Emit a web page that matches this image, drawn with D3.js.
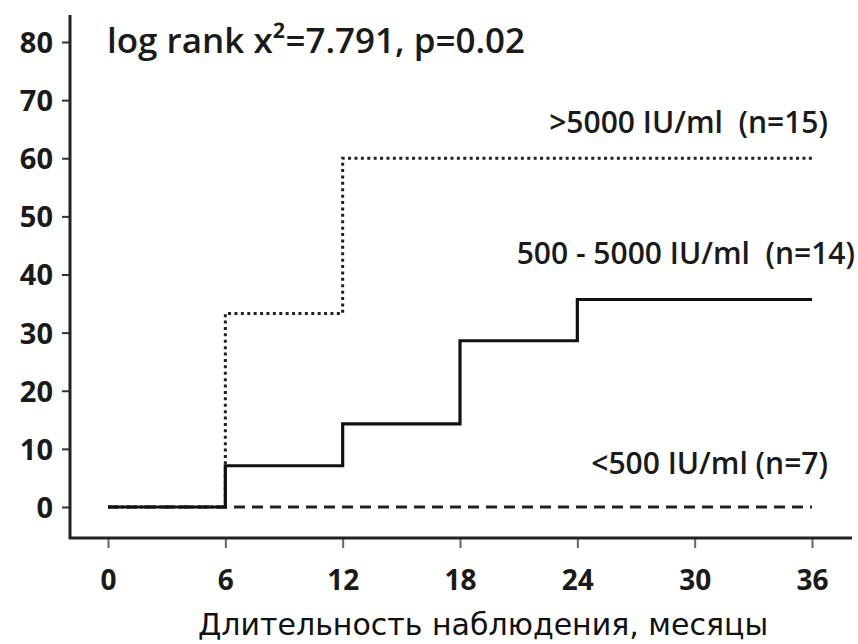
<!DOCTYPE html>
<html>
<head>
<meta charset="utf-8">
<script src="https://cdnjs.cloudflare.com/ajax/libs/d3/7.8.5/d3.min.js"></script>
<style>
  body { margin: 0; background: #fff; }
  svg { display: block; }
  .lbl { font-family: "Open Sans", sans-serif; font-weight: 600; fill: #1a1a1a; white-space: pre; }
</style>
</head>
<body>
<div id="chart"></div>
<script>
// months on the x axis
var months = [0, 6, 12, 18, 24, 30, 36];
var yTicks = [0, 10, 20, 30, 40, 50, 60, 70, 80];

// cumulative event rate, % (step curves)
var highTimes = [0, 6, 12, 36];
var highValues = [0, 33.3, 60, 60];
var midTimes = [0, 6, 12, 18, 24, 36];
var midValues = [0, 7.1, 14.3, 28.6, 35.7, 35.7];
var lowTimes = [0, 36];
var lowValues = [0, 0];

var groupNames = [">5000 IU/ml  (n=15)", "500 - 5000 IU/ml  (n=14)", "<500 IU/ml (n=7)"];
var titleText = "log rank x²=7.791, p=0.02";
var xTitle = "Длительность наблюдения, месяцы";

var width = 858, height = 644;
var axisX = 70, axisY = 538;

var x = d3.scaleLinear().domain([0, 36]).range([108, 812]);
var y = d3.scaleLinear().domain([0, 80]).range([507, 42]);

var svg = d3.select("#chart").append("svg")
  .attr("width", width)
  .attr("height", height);

// y axis
var yAxis = svg.append("g")
  .attr("transform", "translate(" + axisX + ",0)")
  .call(d3.axisLeft(y).tickValues(yTicks).tickSize(8).tickSizeOuter(0));
yAxis.select(".domain").remove();
yAxis.selectAll("line").attr("stroke", "#333").attr("stroke-width", 2);
yAxis.selectAll("text")
  .attr("x", -17)
  .attr("dy", "0.36em")
  .style("font-size", "29px")
  .style("font-family", "'Open Sans', sans-serif")
  .style("font-weight", 700)
  .attr("fill", "#1a1a1a");
svg.append("line")
  .attr("x1", axisX).attr("x2", axisX)
  .attr("y1", 15).attr("y2", axisY + 1)
  .attr("stroke", "#222").attr("stroke-width", 3);

// x axis
var xAxis = svg.append("g")
  .attr("transform", "translate(0," + axisY + ")")
  .call(d3.axisBottom(x).tickValues(months).tickSize(10).tickSizeOuter(0));
xAxis.select(".domain").remove();
xAxis.selectAll("line").attr("stroke-width", 2).attr("stroke", "#666");
xAxis.selectAll("text")
  .attr("y", 52)
  .attr("dy", 0)
  .style("font-size", "28px")
  .style("font-family", "'Open Sans', sans-serif")
  .style("font-weight", 700)
  .attr("fill", "#1a1a1a");
svg.append("line")
  .attr("x1", axisX - 1).attr("x2", 852)
  .attr("y1", axisY).attr("y2", axisY)
  .attr("stroke", "#222").attr("stroke-width", 3);

// step curves
var line = d3.line()
  .x(function(d) { return x(d[0]); })
  .y(function(d) { return y(d[1]); })
  .curve(d3.curveStepAfter);

function pairs(t, v) { return t.map(function(d, i) { return [d, v[i]]; }); }

svg.append("path")
  .datum(pairs(lowTimes, lowValues))
  .attr("d", line)
  .attr("fill", "none").attr("stroke", "#222")
  .attr("stroke-width", 3)
  .attr("stroke-dasharray", "11,7");

svg.append("path")
  .datum(pairs(highTimes, highValues))
  .attr("d", line)
  .attr("fill", "none").attr("stroke", "#222")
  .attr("stroke-width", 3)
  .attr("stroke-dasharray", "3,3.4");

svg.append("path")
  .datum(pairs(midTimes, midValues))
  .attr("d", line)
  .attr("fill", "none").attr("stroke", "#111")
  .attr("stroke-width", 3.2);

// texts
svg.append("text")
  .attr("class", "lbl")
  .attr("x", 107).attr("y", 53)
  .style("font-size", "35px")
  .text(titleText);

var labelPos = [[828, 133], [855, 264], [828, 474]];
svg.selectAll(".glabel")
  .data(groupNames)
  .enter().append("text")
  .attr("class", "lbl glabel")
  .attr("x", function(d, i) { return labelPos[i][0]; })
  .attr("y", function(d, i) { return labelPos[i][1]; })
  .attr("text-anchor", "end")
  .style("font-size", "30px")
  .text(function(d) { return d; });

svg.append("text")
  .attr("x", 483).attr("y", 635)
  .attr("text-anchor", "middle")
  .style("font-family", "'DejaVu Sans', sans-serif")
  .style("font-size", "30px")
  .attr("fill", "#111")
  .text(xTitle);
</script>
</body>
</html>
